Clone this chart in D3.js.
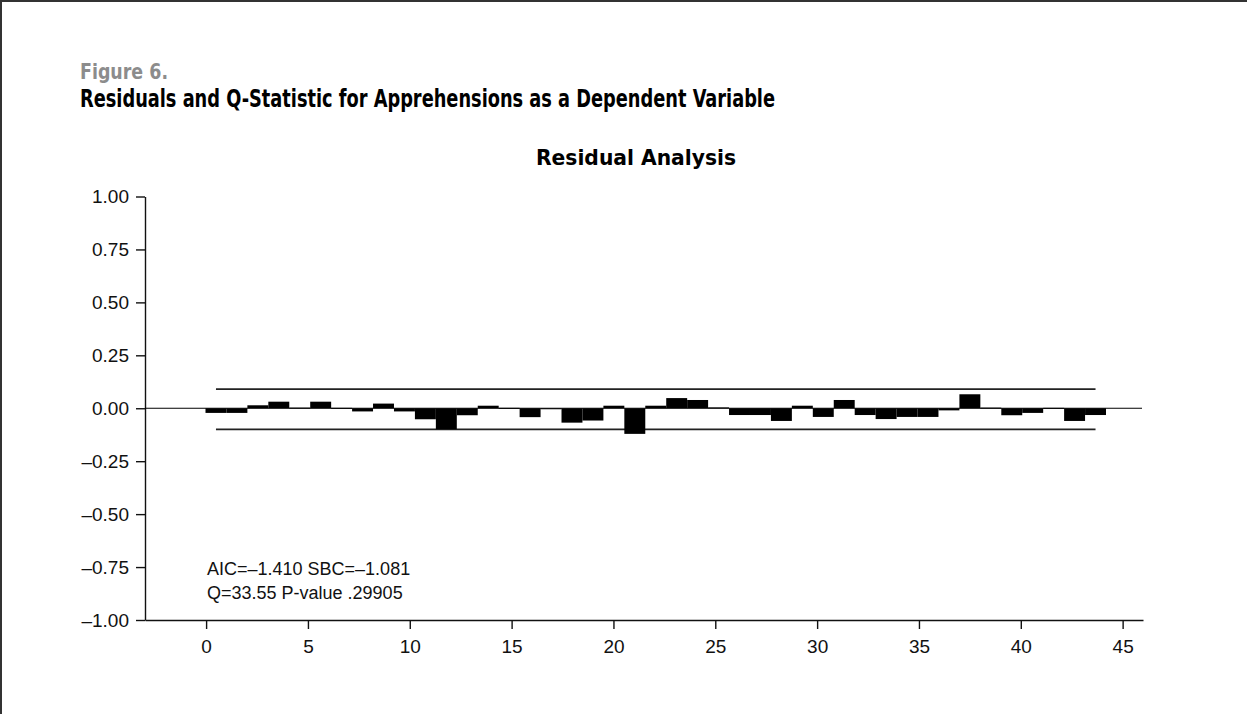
<!DOCTYPE html>
<html>
<head>
<meta charset="utf-8">
<script src="https://cdn.jsdelivr.net/npm/d3@7"></script>
<style>
  body { margin: 0; background: #fff; }
  svg text { font-family: "Liberation Sans", Arial, sans-serif; }
  .ttl { font-family: "Liberation Sans Narrow", "DejaVu Sans Condensed", sans-serif; font-weight: bold; }
</style>
</head>
<body>
<svg id="chart" width="1247" height="714"></svg>
<script>
// residual autocorrelations, lags 1..43
const lags = d3.range(1, 44);
const residuals = [
  -0.022, -0.022, 0.014, 0.031, 0.003, 0.031, 0.002, -0.015, 0.022, -0.015,
  -0.052, -0.099, -0.033, 0.012, 0.002, -0.042, -0.004, -0.068, -0.058, 0.012,
  -0.121, 0.012, 0.048, 0.039, 0.004, -0.032, -0.032, -0.060, 0.012, -0.041,
  0.039, -0.032, -0.051, -0.041, -0.041, -0.010, 0.066, 0.003, -0.033, -0.022,
  0.002, -0.060, -0.032
];
const bandUpper = 0.09;
const bandLower = -0.10;
const yTicks = [1, 0.75, 0.5, 0.25, 0, -0.25, -0.5, -0.75, -1];
const xTicks = [0, 5, 10, 15, 20, 25, 30, 35, 40, 45];
const notes = ["AIC=\u20131.410 SBC=\u20131.081", "Q=33.55 P-value .29905"];

const svg = d3.select("#chart");

// frame (top + left edge)
svg.append("line").attr("x1", 0).attr("y1", 1).attr("x2", 1247).attr("y2", 1)
   .attr("stroke", "#333").attr("stroke-width", 2);
svg.append("line").attr("x1", 1).attr("y1", 0).attr("x2", 1).attr("y2", 714)
   .attr("stroke", "#333").attr("stroke-width", 2);

svg.append("text").attr("class", "ttl").attr("x", 80).attr("y", 79)
   .attr("fill", "#8c8c8c").style("font-size", "22px")
   .attr("textLength", 88).attr("lengthAdjust", "spacingAndGlyphs").text("Figure 6.");
svg.append("text").attr("class", "ttl").attr("x", 80).attr("y", 107)
   .attr("fill", "#000").style("font-size", "24px")
   .attr("textLength", 695).attr("lengthAdjust", "spacingAndGlyphs")
   .text("Residuals and Q-Statistic for Apprehensions as a Dependent Variable");
svg.append("text").attr("class", "ttl").attr("x", 536).attr("y", 165)
   .style("font-size", "22px")
   .attr("textLength", 200).attr("lengthAdjust", "spacingAndGlyphs").text("Residual Analysis");

const y = d3.scaleLinear().domain([-1, 1]).range([620, 196.5]);
const x = d3.scaleLinear().domain([-3, 46]).range([145, 1143]);
const xb = d3.scaleBand().domain(lags).range([205.5, 1106]).padding(0);

const fmt = d => (d < 0 ? "\u2013" : "") + d3.format(".2f")(Math.abs(d));

const yAxis = svg.append("g").attr("transform", "translate(145,0)")
  .call(d3.axisLeft(y).tickValues(yTicks).tickFormat(fmt).tickSize(9).tickSizeOuter(0).tickPadding(7));
const xAxis = svg.append("g").attr("transform", "translate(0,620)")
  .call(d3.axisBottom(x).tickValues(xTicks).tickSize(9).tickSizeOuter(0).tickPadding(11));
[yAxis, xAxis].forEach(g => {
  g.selectAll("path,line").attr("stroke", "#111").attr("stroke-width", 1.4);
  g.selectAll("text").style("font-size", "19px").attr("fill", "#111");
});

// zero reference line
svg.append("line").attr("x1", 145).attr("x2", 1142).attr("y1", y(0)).attr("y2", y(0))
   .attr("stroke", "#000").attr("stroke-width", 1.2);

// confidence limits
[bandUpper, bandLower].forEach(v => {
  svg.append("line")
     .attr("x1", xb(lags[0]) + xb.bandwidth() / 2)
     .attr("x2", xb(lags[lags.length - 1]) + xb.bandwidth() / 2)
     .attr("y1", y(v)).attr("y2", y(v))
     .attr("stroke", "#222").attr("stroke-width", 1.8);
});

svg.selectAll("rect.bar").data(lags).enter().append("rect")
   .attr("class", "bar")
   .attr("x", d => xb(d))
   .attr("width", xb.bandwidth())
   .attr("y", (d, i) => y(Math.max(0, residuals[i])))
   .attr("height", (d, i) => Math.max(1, Math.abs(y(residuals[i]) - y(0))))
   .attr("fill", "#000");

svg.selectAll("text.note").data(notes).enter().append("text")
   .attr("class", "note").attr("x", 207).attr("y", (d, i) => 575 + i * 24)
   .style("font-size", "18px").attr("fill", "#111").text(d => d);
</script>
</body>
</html>
